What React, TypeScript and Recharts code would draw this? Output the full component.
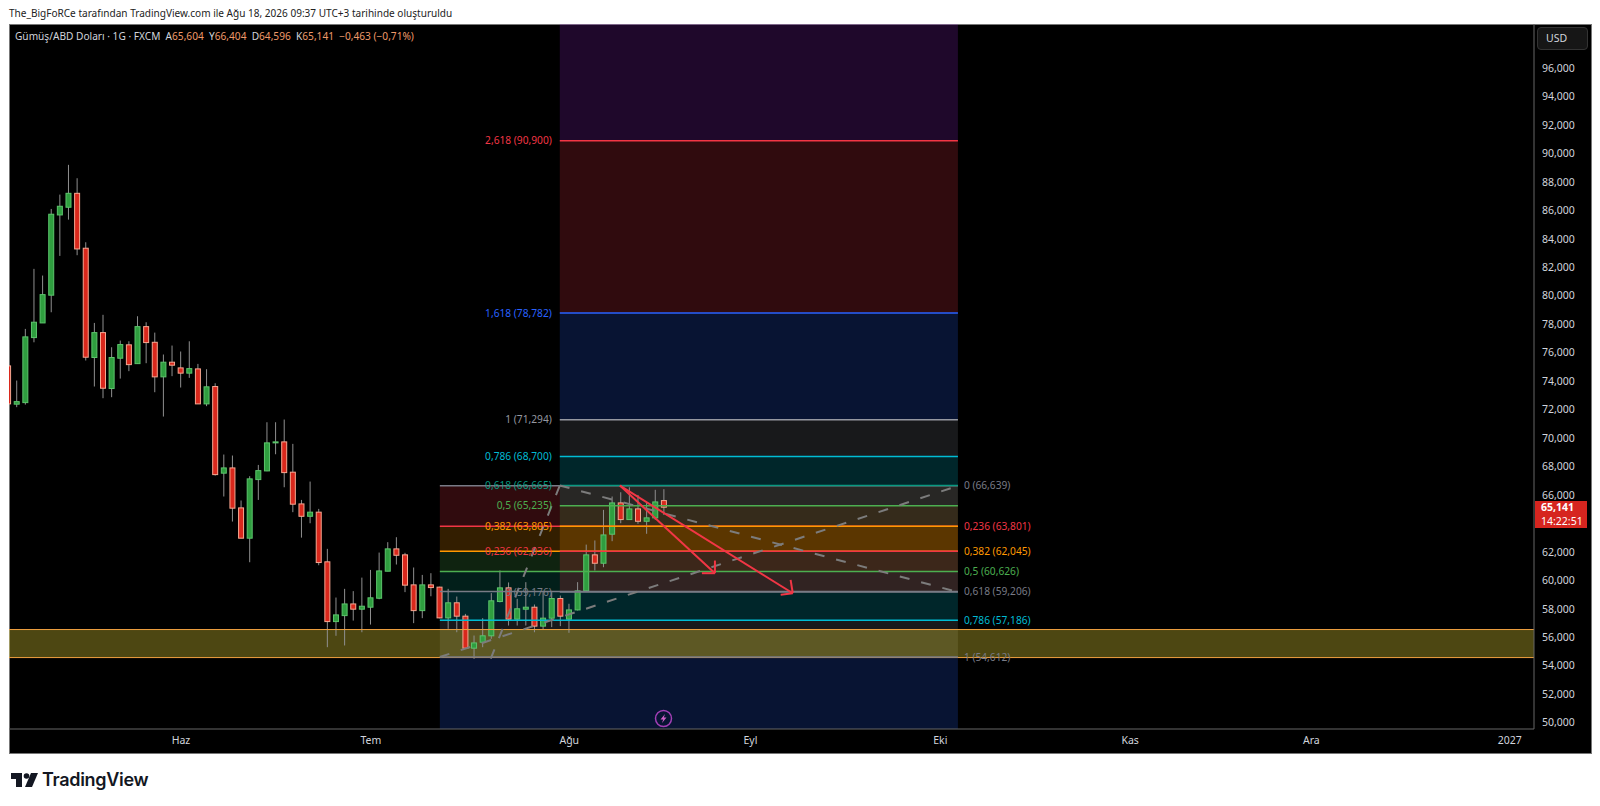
import { ComposedChart, Bar, XAxis, YAxis, ReferenceArea, ReferenceLine } from "recharts";

// daily candles
const opens = [75.07,72.38,72.49,77.06,78.09,80.04,85.68,86.22,87.2,83.34,75.66,77.41,73.48,75.61,76.55,75.23,77.83,76.73,74.3,75.33,74.93,74.56,74.86,72.4,73.62,67.53,67.9,65.09,62.96,67.08,67.69,69.7,69.73,67.6,65.37,64.5,64.79,61.3,57.1,57.52,58.34,57.97,58.11,58.74,60.64,62.21,61.79,59.68,57.87,59.68,59.52,57.36,58.42,57.48,55.23,55.65,56.1,58.51,59.47,57.27,57.97,58.11,56.78,57.34,58.72,57.27,57.92,59.26,61.79,61.2,63.24,65.44,64.27,65.02,64.15,64.39,65.604];
const highs = [75.07,74.04,77.67,81.89,81.42,86.1,87.11,89.2,88.26,83.76,78.09,78.66,76.38,76.85,76.8,78.56,78.14,77.41,75.87,76.5,76.08,76.8,75.21,74.84,73.85,68.84,68.77,65.61,67.32,68.11,71.11,71.11,71.3,69.59,65.65,66.94,65.02,62.21,58.79,59.4,59.24,60.19,60.73,61.95,62.68,63.03,61.93,60.9,60.38,60.5,59.55,59.4,58.86,57.64,56.12,57.34,59.1,60.69,59.85,58.7,59.87,58.3,59.17,59.17,58.93,58.35,59.87,62.51,62.8,64.95,65.89,66.19,66.54,66,65.49,66.36,66.404];
const lows = [72.4,72.17,72.35,76.73,78.09,78.84,82.8,85.35,82.85,75.45,73.62,72.8,72.87,74.18,74.7,75.21,75.26,73.22,71.51,74.35,73.55,74.23,72.4,72.24,67.36,65.89,64.13,62.96,61.27,65.65,67.67,68.86,66.54,64.79,63,64.01,61.06,55.3,56.1,55.42,57.17,56.35,56.89,58.67,60.64,61.11,59.17,56.99,57.34,58.88,57.33,56.59,56.35,55.18,54.48,55.3,55.89,58.45,56.82,56.82,56.82,56.35,56.54,56.71,56.78,56.31,57.88,59.21,60.69,60.92,62.75,64.01,64.25,63.97,63.27,64.25,64.596];
const closes = [72.4,72.56,77.11,78.14,80.08,85.73,86.29,87.2,83.29,75.68,77.41,73.5,75.66,76.57,75.16,77.83,76.71,74.3,75.33,75.12,74.56,74.88,72.4,73.6,67.43,67.9,65.07,62.96,67.13,67.71,69.66,69.73,67.57,65.35,64.5,64.79,61.25,57.1,57.57,58.34,57.97,58.18,58.77,60.66,62.21,61.76,59.66,57.87,59.68,59.49,57.36,58.42,57.48,55.23,55.6,56.1,58.56,59.47,57.27,58,58.11,56.78,57.34,58.72,57.48,57.92,59.26,61.79,61.2,63.19,65.44,64.27,65.02,64.15,64.39,65.51,65.141];

// 64,000 sits behind the last price tag in the picture
const priceTicks = [50,52,54,56,58,60,62,66,68,70,72,74,76,78,80,82,84,86,88,90,92,94,96];
const monthTicks = [20,42,65,86,108,130,151,174];
const monthLabels = ["Haz","Tem","Ağu","Eyl","Eki","Kas","Ara","2027"];

// trend based fib extension, labels on the left
const fibAPrices = [90.9,78.782,71.294,68.7,66.665,65.235,63.805,62.036,59.176];
const fibALabels = ["2,618 (90,900)","1,618 (78,782)","1 (71,294)","0,786 (68,700)","0,618 (66,665)","0,5 (65,235)","0,382 (63,805)","0,236 (62,036)","0 (59,176)"];
const fibAColors = ["#f23645","#2962ff","#9598a1","#00bcd4","#089981","#4caf50","#ff9800","#f23645","#787b86"];
// zones between levels, the first one runs off the top
const fibAZoneColors = ["#9c27d8","#f23645","#2962ff","#787b86","#00bcd4","#089981","#4caf50","#ff9800","#f23645"];

// fib retracement, labels on the right
const fibBPrices = [66.639,63.801,62.045,60.626,59.206,57.186,54.612];
const fibBLabels = ["0 (66,639)","0,236 (63,801)","0,382 (62,045)","0,5 (60,626)","0,618 (59,206)","0,786 (57,186)","1 (54,612)"];
const fibBColors = ["#787b86","#f23645","#ff9800","#4caf50","#787b86","#00bcd4","#787b86"];
const fibBZoneColors = ["#f23645","#ff9800","#4caf50","#089981","#00bcd4","#787b86"];

const zoneTop = 56.54;
const zoneBottom = 54.57;

const X_MIN = 0.07;
const X_MAX = 176.8;
const Y_MIN = 49.55;
const Y_MAX = 99.1;
const FIB_A_X = 63.9;
const FIB_B_X = 50;
const FIB_END_X = 110.04;

const FONT = '"Noto Sans", sans-serif';
const ZONE_ALPHA = 0.2;

const candles = opens.map((o, i) => ({ i, o, h: highs[i], l: lows[i], c: closes[i], range: [lows[i], highs[i]] }));

function Candle(props: any) {
  const { x, y, width, height, payload } = props;
  const top = Math.min(y, y + height);
  const full = Math.abs(height);
  const perUnit = full / (payload.h - payload.l || 1);
  const up = payload.c >= payload.o;
  const y1 = top + (payload.h - Math.max(payload.o, payload.c)) * perUnit;
  const y2 = top + (payload.h - Math.min(payload.o, payload.c)) * perUnit;
  const cx = x + width / 2;
  return (
    <g>
      <line x1={cx} x2={cx} y1={top} y2={top + full} stroke="#8f8f8f" strokeWidth={1} />
      <rect
        x={x + 0.5}
        y={y1}
        width={width - 1}
        height={Math.max(y2 - y1, 1)}
        fill={up ? "#2f9e3f" : "#d9281c"}
        stroke={up ? "#5cc46c" : "#f6a791"}
        strokeWidth={1}
      />
    </g>
  );
}

const hLine = (x1: number, x2: number, y: number) => [{ x: x1, y }, { x: x2, y }] as any;

export default function App() {
  return (
    <div style={{ position: "absolute", left: 0, top: 0, width: 1600, height: 806, background: "#fff", fontFamily: FONT, overflow: "hidden" }}>
      <div style={{ position: "absolute", left: 9, top: 6, fontSize: 10.05, lineHeight: "15px", color: "#222", whiteSpace: "nowrap" }}>
        The_BigFoRCe tarafından TradingView.com ile Ağu 18, 2026 09:37 UTC+3 tarihinde oluşturuldu
      </div>
      <div style={{ position: "absolute", left: 9, top: 24, width: 1581, height: 728, background: "#000", border: "1px solid #777", boxSizing: "content-box" }} />
      <div style={{ position: "absolute", left: 0, top: 0 }}>
        <ComposedChart width={1600} height={806} data={candles} margin={{ top: 24, right: 9, bottom: 53, left: 9 }}>
          <XAxis
            dataKey="i"
            type="number"
            domain={[X_MIN, X_MAX]}
            allowDataOverflow
            ticks={monthTicks}
            interval={0}
            height={24}
            tickLine={false}
            axisLine={{ stroke: "#666" }}
            tick={{ fill: "#d1d4dc", fontSize: 10.5, fontFamily: FONT }}
            tickFormatter={(v: number) => monthLabels[monthTicks.indexOf(v)]}
          />
          <YAxis
            type="number"
            orientation="right"
            width={57}
            domain={[Y_MIN, Y_MAX]}
            allowDataOverflow
            ticks={priceTicks}
            interval={0}
            tickLine={false}
            axisLine={{ stroke: "#666" }}
            tick={{ fill: "#d1d4dc", fontSize: 10.5, fontFamily: FONT }}
            tickFormatter={(v: number) => v + ",000"}
          />

          {fibBZoneColors.map((c, k) => (
            <ReferenceArea key={"bz" + k} x1={FIB_B_X} x2={FIB_END_X} y1={fibBPrices[k + 1]} y2={fibBPrices[k]} fill={c} fillOpacity={ZONE_ALPHA} stroke="none" />
          ))}
          <ReferenceArea x1={FIB_B_X} x2={FIB_END_X} y1={Y_MIN} y2={fibBPrices[6]} fill="#2962ff" fillOpacity={ZONE_ALPHA} stroke="none" />
          {fibAZoneColors.map((c, k) => (
            <ReferenceArea
              key={"az" + k}
              x1={FIB_A_X}
              x2={FIB_END_X}
              y1={fibAPrices[k]}
              y2={k === 0 ? Y_MAX : fibAPrices[k - 1]}
              fill={c}
              fillOpacity={ZONE_ALPHA}
              stroke="none"
            />
          ))}
          <ReferenceArea x1={X_MIN} x2={X_MAX} y1={zoneBottom} y2={zoneTop} fill="#ffeb3b" fillOpacity={0.3} stroke="none" />

          <ReferenceLine segment={hLine(X_MIN, X_MAX, zoneTop)} stroke="#f0a040" strokeWidth={1} />
          <ReferenceLine segment={hLine(X_MIN, X_MAX, zoneBottom)} stroke="#f0a040" strokeWidth={1} />
          {fibBPrices.map((p, k) => (
            <ReferenceLine
              key={"bl" + k}
              segment={hLine(FIB_B_X, FIB_END_X, p)}
              stroke={fibBColors[k]}
              strokeWidth={1.5}
              label={{ value: fibBLabels[k], position: "right", offset: 6, fill: fibBColors[k], fontSize: 10.2, fontFamily: FONT }}
            />
          ))}
          {fibAPrices.map((p, k) => (
            <ReferenceLine
              key={"al" + k}
              segment={hLine(FIB_A_X, FIB_END_X, p)}
              stroke={fibAColors[k]}
              strokeWidth={1.5}
              label={{ value: fibALabels[k], position: "left", offset: 8, fill: fibAColors[k], fontSize: 10.2, fontFamily: FONT }}
            />
          ))}

          <ReferenceLine segment={[{ x: FIB_B_X, y: 54.612 }, { x: FIB_END_X, y: 66.639 }]} stroke="#7c7c7c" strokeWidth={2} strokeDasharray="10 12" />
          <ReferenceLine segment={[{ x: 55.9, y: 54.5 }, { x: FIB_A_X, y: 66.665 }]} stroke="#7c7c7c" strokeWidth={2} strokeDasharray="10 12" />
          <ReferenceLine segment={[{ x: FIB_A_X, y: 66.665 }, { x: FIB_END_X, y: 59.176 }]} stroke="#7c7c7c" strokeWidth={2} strokeDasharray="10 12" />

          <Bar dataKey="range" barSize={6} isAnimationActive={false} shape={<Candle />} />

          <ReferenceLine segment={[{ x: 70.87, y: 66.66 }, { x: 81.88, y: 60.5 }]} stroke="#f23645" strokeWidth={2} />
          <ReferenceLine segment={[{ x: 81.88, y: 61.39 }, { x: 81.88, y: 60.5 }]} stroke="#f23645" strokeWidth={2} />
          <ReferenceLine segment={[{ x: 80.37, y: 60.5 }, { x: 81.88, y: 60.5 }]} stroke="#f23645" strokeWidth={2} />
          <ReferenceLine segment={[{ x: 70.87, y: 66.66 }, { x: 90.9, y: 59.09 }]} stroke="#f23645" strokeWidth={2} />
          <ReferenceLine segment={[{ x: 90.65, y: 60.03 }, { x: 90.9, y: 59.09 }]} stroke="#f23645" strokeWidth={2} />
          <ReferenceLine segment={[{ x: 89.5, y: 58.98 }, { x: 90.9, y: 59.09 }]} stroke="#f23645" strokeWidth={2} />
        </ComposedChart>
      </div>

      <div style={{ position: "absolute", left: 15, top: 29, fontSize: 10.15, lineHeight: "15px", color: "#d1d4dc", whiteSpace: "nowrap" }}>
        Gümüş/ABD Doları · 1G · FXCM&nbsp; A<span style={{ color: "#ef9a6a" }}>65,604</span>&nbsp; Y<span style={{ color: "#ef9a6a" }}>66,404</span>&nbsp; D
        <span style={{ color: "#ef9a6a" }}>64,596</span>&nbsp; K<span style={{ color: "#ef9a6a" }}>65,141</span>&nbsp; <span style={{ color: "#ef9a6a" }}>−0,463 (−0,71%)</span>
      </div>
      <div style={{ position: "absolute", left: 1537, top: 27, width: 51, height: 23, boxSizing: "border-box", background: "#161616", border: "1px solid #333", borderRadius: 4, color: "#d1d4dc", fontSize: 10.5, lineHeight: "21px", paddingLeft: 8 }}>
        USD
      </div>
      <div style={{ position: "absolute", left: 1535, top: 501, width: 52, height: 27, background: "#d6251f", color: "#fff", fontSize: 10.5, lineHeight: "13.5px", paddingLeft: 6, boxSizing: "border-box" }}>
        <div style={{ fontWeight: 700 }}>65,141</div>
        <div>14:22:51</div>
      </div>
      <svg style={{ position: "absolute", left: 654, top: 709 }} width={19} height={19}>
        <circle cx={9.5} cy={9.5} r={8} fill="none" stroke="#a23fb5" strokeWidth={1.5} />
        <path d="M11 5 L6.5 10.5 H9.2 L8 14 L12.5 8.5 H9.8 Z" fill="#d05fc8" />
      </svg>
      <svg style={{ position: "absolute", left: 9, top: 770 }} width={32} height={20}>
        <polygon points="2,3 13,3 13,17 7,17 7,9 2,9" fill="#131722" />
        <circle cx={17.5} cy={6} r={2.8} fill="#131722" />
        <polygon points="22,3 29,3 23,17 16,17" fill="#131722" />
      </svg>
      <div style={{ position: "absolute", left: 42, top: 767, fontFamily: "Inter, sans-serif", fontWeight: 600, fontSize: 18, lineHeight: "26px", color: "#131722", letterSpacing: -0.3, whiteSpace: "nowrap" }}>
        TradingView
      </div>
    </div>
  );
}
